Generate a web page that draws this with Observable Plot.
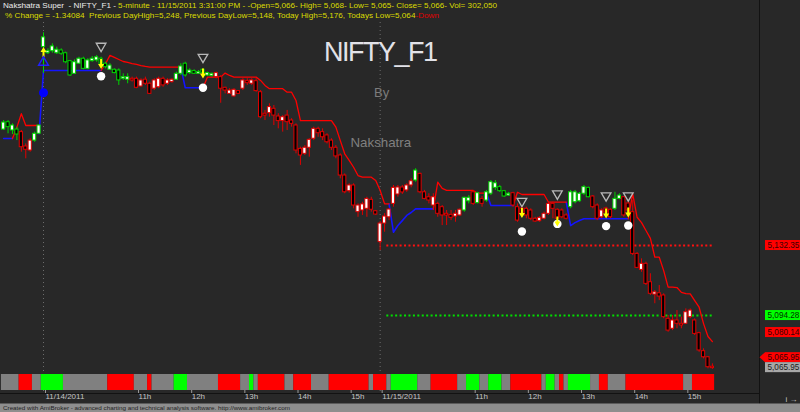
<!DOCTYPE html>
<html><head><meta charset="utf-8">
<script src="https://cdn.jsdelivr.net/npm/d3@7"></script>
<script src="https://cdn.jsdelivr.net/npm/@observablehq/plot@0.6"></script>
<style>
html,body{margin:0;padding:0;background:#282828;}
#wrap{position:relative;width:800px;height:412px;overflow:hidden;background:#282828;}
#wrap svg{position:absolute;left:0;}
</style></head>
<body><div id="wrap"></div>
<script>
// ---------- DATA (5-minute bars, NIFTY_F1, 11/11 end, 11/14, 11/15/2011) ----------
const open = [
5195.4,5199.4,5194.9,5195.4,5194.0,5186.2,5184.0,5189.4,5193.1,5240.2,
5236.9,5238.0,5236.9,5238.4,5236.9,5232.6,5225.7,5231.2,5233.9,5228.4,
5232.6,5233.0,5233.9,5231.2,5227.9,5227.9,5227.5,5223.0,5222.5,5223.0,
5223.0,5218.8,5222.5,5220.3,5217.6,5218.4,5223.0,5220.3,5221.2,5222.5,
5225.7,5231.2,5226.1,5227.2,5225.7,5227.9,5224.8,5224.6,5223.9,5223.9,
5218.1,5214.8,5213.4,5216.3,5217.6,5221.7,5220.3,5221.7,5215.7,5204.0,
5204.3,5206.7,5202.5,5200.0,5203.0,5200.3,5197.6,5184.9,5182.2,5185.5,
5190.4,5195.8,5194.0,5192.2,5189.4,5185.5,5181.3,5170.4,5161.9,5165.0,
5150.5,5151.4,5152.3,5157.2,5151.0,5134.2,5144.3,5147.7,5155.0,5160.1,
5163.9,5162.3,5165.0,5167.7,5171.3,5161.3,5158.6,5154.1,5155.0,5153.2,
5149.6,5149.0,5148.1,5148.7,5151.4,5156.4,5161.3,5155.4,5157.7,5156.8,
5160.5,5163.7,5164.1,5161.9,5159.5,5160.8,5153.2,5152.5,5152.3,5151.4,
5146.9,5145.6,5146.9,5149.6,5155.0,5151.8,5151.4,5148.7,5153.2,5155.9,
5156.4,5160.5,5163.7,5159.0,5154.1,5147.7,5152.5,5151.8,5152.3,5157.7,
5158.6,5155.2,5150.5,5127.8,5119.1,5122.4,5112.4,5105.7,5106.4,5105.2,
5092.5,5087.1,5091.6,5089.8,5089.8,5093.4,5091.6,5084.7,5074.9,5071.6,
5066.2];
const high = [
5200.3,5200.3,5198.5,5196.7,5194.9,5187.6,5190.4,5194.0,5198.0,5248.0,
5239.3,5242.0,5240.2,5239.3,5237.5,5233.0,5233.3,5234.7,5234.7,5233.9,
5235.1,5235.7,5234.7,5232.0,5231.2,5228.4,5228.4,5225.7,5225.7,5223.9,
5223.9,5223.0,5223.9,5221.2,5223.0,5223.9,5223.9,5223.0,5223.0,5226.6,
5231.2,5232.0,5228.4,5227.9,5227.5,5228.4,5226.6,5226.1,5226.6,5224.8,
5218.4,5217.6,5217.6,5216.6,5223.0,5223.0,5223.0,5223.0,5216.6,5205.8,
5209.4,5208.5,5204.0,5203.0,5205.8,5201.3,5198.5,5185.8,5186.7,5190.4,
5196.7,5196.7,5195.8,5193.1,5190.4,5186.7,5182.2,5171.3,5165.9,5165.9,
5155.0,5155.9,5158.6,5158.6,5151.4,5145.4,5149.7,5152.5,5165.0,5165.0,
5165.0,5165.9,5168.6,5174.1,5171.7,5162.3,5160.5,5160.5,5155.9,5154.1,
5151.4,5151.4,5151.4,5152.3,5158.6,5159.5,5162.3,5161.3,5159.0,5162.3,
5167.7,5167.7,5165.0,5162.3,5161.2,5161.3,5155.0,5153.2,5153.2,5152.3,
5147.7,5148.1,5150.5,5155.9,5155.9,5152.3,5152.3,5149.6,5162.3,5162.3,
5161.2,5165.0,5164.1,5159.5,5155.0,5152.3,5153.2,5152.3,5161.3,5160.5,
5159.0,5156.4,5156.8,5128.5,5125.1,5123.3,5117.0,5107.9,5110.6,5106.1,
5094.3,5094.3,5097.0,5093.4,5097.9,5097.9,5092.5,5085.2,5076.2,5072.0,
5068.0];
const low = [
5194.9,5193.1,5192.7,5189.4,5183.1,5179.5,5183.1,5188.5,5192.7,5225.9,
5236.2,5236.9,5236.2,5235.7,5231.2,5224.3,5225.4,5230.8,5227.9,5227.9,
5232.0,5232.0,5229.3,5228.4,5227.5,5225.7,5219.4,5222.1,5220.3,5221.2,
5217.6,5218.4,5219.4,5214.5,5216.6,5217.6,5218.4,5219.4,5220.6,5222.1,
5224.8,5223.9,5225.4,5225.4,5225.4,5225.4,5224.3,5223.9,5223.0,5209.7,
5214.8,5214.5,5213.0,5214.5,5216.6,5219.4,5219.4,5215.7,5201.3,5200.3,
5202.1,5197.6,5195.8,5194.0,5194.9,5196.7,5182.2,5175.9,5181.3,5180.4,
5189.4,5191.2,5189.4,5187.6,5184.0,5179.5,5168.6,5160.5,5160.8,5152.3,
5147.7,5148.7,5147.7,5150.5,5148.7,5129.6,5139.6,5145.9,5153.2,5158.6,
5160.1,5161.3,5163.7,5166.8,5160.5,5157.2,5155.0,5151.4,5147.7,5143.2,
5143.2,5145.9,5145.0,5148.1,5150.5,5155.0,5154.1,5155.0,5153.2,5155.9,
5159.5,5162.3,5161.2,5158.6,5159.0,5153.2,5145.0,5148.1,5146.9,5145.9,
5145.0,5145.0,5146.3,5148.7,5146.9,5146.3,5146.9,5146.3,5152.3,5155.0,
5155.9,5159.5,5158.3,5152.3,5145.9,5146.9,5149.0,5146.9,5151.4,5157.2,
5147.7,5150.3,5126.9,5119.8,5117.8,5110.6,5105.2,5100.7,5102.4,5092.5,
5085.2,5086.1,5087.1,5087.1,5089.4,5092.5,5083.4,5074.3,5070.7,5065.3,
5065.0];
const close = [
5199.2,5196.7,5197.6,5192.7,5185.8,5184.4,5189.4,5193.1,5197.6,5245.5,
5238.0,5240.6,5238.8,5236.6,5232.0,5224.8,5232.0,5233.9,5228.4,5233.0,
5233.9,5234.7,5231.2,5229.3,5230.2,5226.1,5222.1,5223.9,5223.9,5222.1,
5218.1,5222.1,5220.3,5214.8,5222.1,5223.0,5219.4,5222.1,5222.5,5225.7,
5229.7,5224.8,5227.5,5225.7,5226.6,5226.1,5226.1,5225.7,5226.1,5217.6,
5216.6,5216.6,5217.0,5214.8,5222.1,5220.6,5222.1,5216.3,5202.1,5203.0,
5207.6,5203.0,5200.0,5202.1,5199.4,5198.5,5184.0,5181.3,5185.5,5189.8,
5195.8,5193.4,5191.2,5188.5,5185.5,5180.8,5170.4,5161.3,5165.0,5154.1,
5154.1,5154.7,5157.7,5151.8,5149.2,5144.3,5148.1,5151.9,5163.7,5163.9,
5161.2,5165.0,5167.3,5173.1,5161.3,5157.7,5156.8,5158.6,5149.6,5148.7,
5148.7,5147.4,5149.6,5151.8,5158.3,5158.3,5155.0,5160.8,5155.0,5161.3,
5166.8,5166.2,5161.9,5159.0,5160.5,5154.1,5145.9,5149.7,5148.7,5146.9,
5145.4,5147.4,5149.6,5155.0,5152.3,5146.9,5147.7,5146.9,5161.3,5161.3,
5160.5,5164.1,5158.6,5153.2,5146.9,5151.4,5150.3,5147.7,5157.7,5159.5,
5148.7,5151.4,5127.8,5120.2,5122.4,5111.5,5106.1,5106.9,5104.6,5093.4,
5086.1,5091.6,5089.8,5088.9,5096.1,5097.0,5084.3,5075.3,5071.6,5066.2,
5065.95];

// candle outline colour state per run of bars [from, to, state]
const candleTrendRuns = [[0,3,"G"],[4,6,"R"],[7,28,"G"],[29,38,"R"],[39,47,"G"],[48,92,"R"],[93,93,"G"],[94,103,"R"],[104,105,"G"],[106,106,"R"],[107,107,"G"],[108,108,"R"],[109,114,"G"],[115,127,"R"],[128,132,"G"],[133,137,"R"],[138,139,"G"],[140,160,"R"]];

// trailing stop: long (blue) and short (red), null where inactive
const N = null;
const blueStop = [
5190.5,5190.5,5190.5,N,N,N,N,N,5193.1,5227.5,
5227.5,5227.5,5227.5,5227.5,5227.5,5227.5,5227.5,5227.5,5227.5,5227.5,
5227.5,5227.5,5227.5,N,N,N,N,N,N,N,
N,N,N,N,N,N,N,N,N,N,
5229.3,5218.1,5218.1,5218.1,5218.1,5218.1,N,N,N,N,
N,N,N,N,N,N,N,N,N,N,
N,N,N,N,N,N,N,N,N,N,
N,N,N,N,N,N,N,N,N,N,
N,N,N,N,N,N,N,5155.0,5139.6,5143.2,
5145.9,5148.7,5150.3,5152.3,5152.3,5152.3,5152.3,5152.3,N,N,
N,N,N,N,N,N,N,N,N,5160.8,
5154.1,5154.1,5154.1,5154.1,5154.1,5154.1,N,N,N,N,
N,N,N,N,N,N,N,5155.9,5143.2,5144.8,
5145.9,5146.9,5146.9,5146.9,5146.9,5146.9,5146.9,5146.9,5146.9,5146.9,
5146.9,5146.9,N,N,N,N,N,N,N,N,
N,N,N,N,N,N,N,N,N,N,
N];
const redStop = [
N,N,5190.5,5196.7,5204.0,5197.6,5197.6,5197.6,5197.6,N,
N,N,N,N,N,N,N,N,N,N,
N,N,5227.5,5231.2,5235.7,5234.6,5233.5,5232.4,5231.9,5231.3,
5230.8,5230.2,5229.7,5229.3,5229.3,5229.3,5229.3,5229.3,5229.3,5229.3,
5229.3,N,N,N,N,5218.1,5223.9,5223.9,5223.9,5223.9,
5226.1,5224.8,5223.9,5223.9,5223.9,5223.9,5223.9,5223.9,5222.1,5219.4,
5217.6,5217.6,5217.6,5217.6,5215.7,5215.7,5211.2,5200.3,5200.3,5200.3,
5200.3,5200.3,5200.3,5200.3,5200.3,5196.7,5189.4,5182.2,5178.6,5174.9,
5170.4,5169.5,5169.5,5169.5,5167.7,5162.3,5155.0,5155.0,N,N,
N,N,N,N,N,N,N,5152.3,5166.8,5163.4,
5162.3,5162.3,5162.3,5162.3,5162.3,5162.3,5162.3,5160.8,5160.8,5160.8,
N,N,N,N,N,5154.1,5161.3,5160.1,5160.1,5160.1,
5160.1,5160.1,5160.1,5155.9,5155.9,5155.9,5155.9,5155.9,N,N,
N,N,N,N,N,N,N,N,N,N,
N,5146.9,5160.5,5147.7,5144.8,5140.5,5136.2,5126.0,5126.0,5118.7,
5109.7,5109.7,5109.5,5106.9,5106.2,5106.1,5102.4,5098.8,5089.9,5082.9,
5080.14];

// signals
const buyBars = [9];
const buyTri = [5231.9];
const buyArrow = [5237.6];
const buyDot = [5215.4];
const sellBars = [22, 45, 117, 125, 136, 141];
const sellTri = [5240.8, 5234.8, 5156.5, 5160.5, 5159.5, 5159.5];
const sellArrow = [5231.1, 5225.9, 5150.0, 5145.4, 5149.7, 5150.3];
const sellDot = [5224.4, 5218.1, 5140.0, 5144.1, 5142.9, 5143.2];

// horizontal levels on 11/15
const levelValues = [5132.35, 5094.28];
const levelKinds = ["r", "g"];
const levelFrom = 86.5, levelTo = 160;

// bottom ribbon state runs [from, to, state]
const ribbonRuns = [[0,3,"n"],[4,6,"r"],[7,8,"n"],[9,13,"g"],[14,23,"n"],[24,29,"r"],[30,32,"n"],[33,33,"r"],[34,38,"n"],[39,41,"g"],[42,48,"n"],[49,53,"r"],[54,55,"n"],[56,56,"g"],[57,57,"n"],[58,63,"r"],[64,65,"n"],[66,69,"r"],[70,73,"n"],[74,82,"r"],[83,83,"n"],[84,86,"r"],[87,87,"n"],[88,93,"g"],[94,96,"n"],[97,102,"r"],[103,104,"n"],[105,107,"g"],[108,109,"n"],[110,112,"g"],[113,114,"n"],[115,121,"r"],[122,122,"n"],[123,124,"g"],[125,125,"n"],[126,126,"r"],[127,127,"n"],[128,132,"g"],[133,134,"n"],[135,136,"r"],[137,140,"n"],[141,153,"r"],[154,155,"n"],[156,160,"r"]];

// time axis
const dayStarts = [9, 85];
const tickIdx = [9, 30, 42, 54, 66, 78, 85, 106, 118, 130, 142, 154];
const tickLabels = ["11/14/2011","11h","12h","13h","14h","15h","11/15/2011","11h","12h","13h","14h","15h"];

// ---------- BUILD ----------
const trendOf = new Array(open.length);
candleTrendRuns.forEach(([a,b,s]) => { for (let k=a;k<=b;k++) trendOf[k]=s; });
const bars = open.map((o,i) => ({i, o, h: high[i], l: low[i], c: close[i], t: trendOf[i]}));
const outline = {G: "#00d200", R: "#e00000"};
const ribbonFill = {n: "#808080", r: "#ff0000", g: "#00ff00"};
const levelColor = {r: "#ff1010", g: "#00e000"};
const levels = levelValues.map((v,k) => ({v, k: levelKinds[k]}));
const buys = buyBars.map((b,k) => ({i:b, tri:buyTri[k], arrow:buyArrow[k], dot:buyDot[k]}));
const sells = sellBars.map((b,k) => ({i:b, tri:sellTri[k], arrow:sellArrow[k], dot:sellDot[k]}));

const arrowDown = {draw(ctx, size){ const s=Math.sqrt(size/Math.PI)/5;
  ctx.moveTo(-1*s,-5*s); ctx.lineTo(1*s,-5*s); ctx.lineTo(1*s,0); ctx.lineTo(3*s,0);
  ctx.lineTo(0,5*s); ctx.lineTo(-3*s,0); ctx.lineTo(-1*s,0); ctx.closePath(); }};
const arrowUp = {draw(ctx, size){ const s=Math.sqrt(size/Math.PI)/5;
  ctx.moveTo(-1*s,5*s); ctx.lineTo(1*s,5*s); ctx.lineTo(1*s,0); ctx.lineTo(3*s,0);
  ctx.lineTo(0,-5*s); ctx.lineTo(-3*s,0); ctx.lineTo(-1*s,0); ctx.closePath(); }};

const xDomain = [-0.707, 170.63];
const bodyLo = d => Math.min(d.o,d.c) - (Math.abs(d.o-d.c) < 0.4 ? 0.25 : 0);
const bodyHi = d => Math.max(d.o,d.c) + (Math.abs(d.o-d.c) < 0.4 ? 0.25 : 0);

const chart = Plot.plot({
  width: 800, height: 404,
  marginLeft: 0, marginRight: 41, marginTop: 22, marginBottom: 11,
  style: {background: "transparent", overflow: "visible", fontFamily: "'Liberation Sans', Arial, sans-serif"},
  x: {domain: xDomain, axis: null},
  y: {domain: [5051.9, 5253.6], axis: null},
  color: {type: "identity"},
  marks: [
    Plot.ruleX(dayStarts, {stroke: "#6c6c6c", strokeDasharray: "1,3"}),
    Plot.ruleY(levels, {y: "v", x1: levelFrom, x2: levelTo, stroke: d => levelColor[d.k], strokeWidth: 2, strokeDasharray: "2,2.43"}),
    Plot.line(bars, {x: "i", y: d => blueStop[d.i] ?? NaN, stroke: "#1414ff", strokeWidth: 1.6}),
    Plot.line(bars, {x: "i", y: d => redStop[d.i] ?? NaN, stroke: "#ff0000", strokeWidth: 1.3}),
    Plot.ruleX(bars, {x: "i", y1: "l", y2: "h", stroke: d => outline[d.t], strokeWidth: 1}),
    Plot.rect(bars, {x1: d => d.i - 0.36, x2: d => d.i + 0.36, y1: bodyLo, y2: bodyHi,
      fill: d => d.c > d.o ? "#ffffff" : "#000000", stroke: d => outline[d.t], strokeWidth: 1}),
    Plot.dot(sells, {x: "i", y: "dot", r: 4.2, fill: "#ffffff", stroke: "none"}),
    Plot.dot(sells, {x: "i", y: "arrow", symbol: arrowDown, r: 5, fill: "#ffff00", stroke: "none"}),
    Plot.dot(sells, {x: "i", y: "tri", symbol: "triangle", rotate: 180, r: 3.6, fill: "none", stroke: "#b8b8b8", strokeWidth: 1.3}),
    Plot.dot(buys, {x: "i", y: "dot", r: 4.5, fill: "#0000ff", stroke: "none"}),
    Plot.dot(buys, {x: "i", y: "arrow", symbol: arrowUp, r: 5, fill: "#ffff00", stroke: "none"}),
    Plot.dot(buys, {x: "i", y: "tri", symbol: "triangle", r: 3.6, fill: "none", stroke: "#2020ff", strokeWidth: 1.5}),
    Plot.axisX(tickIdx, {anchor: "bottom", tickSize: 4, tickPadding: 0, textAnchor: "start", dx: 2, dy: -4,
      tickFormat: d => tickLabels[tickIdx.indexOf(d)], fill: "#c4c4c4", stroke: "#9a9a9a", fontSize: 8})
  ]
});
chart.style.top = "0px";
const wrap = document.getElementById("wrap");
wrap.appendChild(chart);

const ribbon = Plot.plot({
  width: 800, height: 16, marginLeft: 0, marginRight: 41, marginTop: 0, marginBottom: 0,
  style: {background: "transparent"},
  x: {domain: xDomain, axis: null},
  color: {type: "identity"},
  marks: [Plot.rect(ribbonRuns, {x1: d => d[0] - 0.5, x2: d => d[1] + 0.5, fill: d => ribbonFill[d[2]]})]
});
ribbon.style.top = "374px";
wrap.appendChild(ribbon);

// ---------- overlay: texts, separators, price labels ----------
const ov = d3.select(wrap).append("svg").attr("width", 800).attr("height", 412)
  .style("top", "0px").style("font-family", "'Liberation Sans', Arial, sans-serif");
ov.append("line").attr("x1", 0).attr("x2", 759).attr("y1", 393.5).attr("y2", 393.5).attr("stroke", "#121212");
ov.append("line").attr("x1", 759.5).attr("x2", 759.5).attr("y1", 0).attr("y2", 404).attr("stroke", "#121212");
ov.append("rect").attr("x", 0).attr("y", 403.5).attr("width", 800).attr("height", 9).attr("fill", "#8e8e8e");
ov.append("text").attr("x", 3).attr("y", 410).attr("font-size", 6.2).attr("fill", "#1e1e1e")
  .attr("textLength", 287).attr("lengthAdjust", "spacingAndGlyphs")
  .text("Created with AmiBroker - advanced charting and technical analysis software. http://www.amibroker.com");

const h1 = ov.append("text").attr("x", 3).attr("y", 8.3).attr("font-size", 8).style("white-space", "pre")
  .attr("textLength", 494).attr("lengthAdjust", "spacingAndGlyphs");
h1.append("tspan").attr("fill", "#ececec").text("Nakshatra Super  - NIFTY_F1 - ");
h1.append("tspan").attr("fill", "#dcdc00").text("5-minute - 11/15/2011 3:31:00 PM - -Open=5,066- High= 5,068- Low= 5,065- Close= 5,066- Vol= 302,050");
const h2 = ov.append("text").attr("x", 5).attr("y", 18.3).attr("font-size", 8).style("white-space", "pre")
  .attr("textLength", 434).attr("lengthAdjust", "spacingAndGlyphs");
h2.append("tspan").attr("fill", "#dcdc00").text("% Change = -1.34084  Previous DayHigh=5,248, Previous DayLow=5,148, Today High=5,176, Todays Low=5,064");
h2.append("tspan").attr("fill", "#e00000").text("-Down");

ov.append("text").attr("x", 324).attr("y", 60.7).attr("font-size", 27).attr("letter-spacing", -1.5).attr("fill", "#e2e2e8").text("NIFTY_F1");
ov.append("text").attr("x", 374).attr("y", 96.7).attr("font-size", 13).attr("fill", "#7c7c7c").text("By");
ov.append("text").attr("x", 350.5).attr("y", 147.3).attr("font-size", 13.3).attr("fill", "#808080").text("Nakshatra");

const ys = chart.scale("y");
const lastClose = close[close.length - 1];
const lastStop = redStop[redStop.length - 1];
const priceLabels = [
  {v: levelValues[0], bg: "#ff0000", fg: "#3a0000", shift: 0},
  {v: levelValues[1], bg: "#00ff00", fg: "#003000", shift: 0},
  {v: lastStop, bg: "#ff0000", fg: "#3a0000", shift: -9},
  {v: lastClose, bg: "#ff0000", fg: "#3a0000", shift: -10, pointer: true},
  {v: lastClose, bg: "#a8a8a8", fg: "#202020", shift: 0}
];
const fmt = d3.format(",.2f");
priceLabels.forEach(L => {
  const y = ys.apply(L.v) + L.shift;
  if (L.pointer) ov.append("path").attr("d", `M759.5,${y} L765,${y-5} L765,${y+5} Z`).attr("fill", L.bg);
  ov.append("rect").attr("x", 765).attr("y", y - 5).attr("width", 40).attr("height", 10).attr("fill", L.bg);
  ov.append("text").attr("x", 767.5).attr("y", y + 3).attr("font-size", 8.2).attr("fill", L.fg).text(fmt(L.v));
});
</script>
</body></html>
